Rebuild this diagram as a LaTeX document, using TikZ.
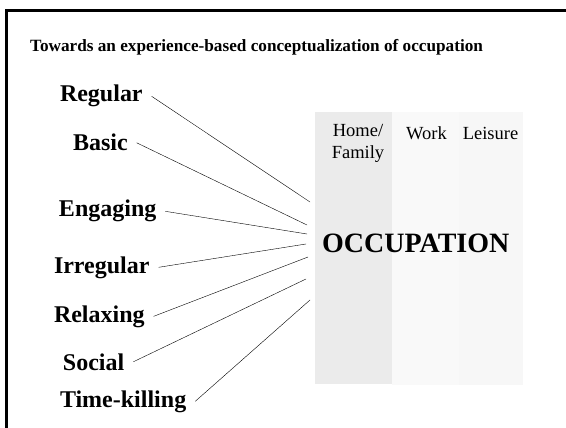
\documentclass[tikz,border=0pt]{standalone}
\usepackage{fontspec}
\setmainfont{Liberation Serif}
\definecolor{homegray}{HTML}{EBEBEB}
\definecolor{workgray}{HTML}{F9F9F9}
\definecolor{leisgray}{HTML}{F7F7F7}
\begin{document}
\begin{tikzpicture}[x=1pt, y=-1pt,
		lbl/.style={font=\fontsize{24}{28}\selectfont\bfseries, inner sep=0pt, outer xsep=9pt, anchor=base west},
		colhead/.style={font=\fontsize{18.5}{21}\selectfont, inner sep=0pt, align=center, anchor=base}]
		\useasboundingbox (0,0) rectangle (566,428);
		
		% frame, only top and left edges show
		\draw[line width=2.5pt] (6.5,428) -- (6.5,10.5) -- (566,10.5);
		
		\node[anchor=base west, inner sep=0pt, font=\fontsize{17.2}{20}\selectfont\bfseries] (title) at (30,51.5) {Towards an experience-based conceptualization of occupation};
		
		% the three columns
		\fill[homegray] (315,112) rectangle (392,384);
		\fill[workgray] (392,112) rectangle (459,385);
		\fill[leisgray] (459,112) rectangle (523,385);
		
		\node[colhead] (home) at (358,158) {Home/\\Family};
		\node[colhead] (work) at (426.5,140) {Work};
		\node[colhead] (leis) at (490.5,140) {Leisure};
		
		\node[anchor=base west, inner sep=0pt, font=\fontsize{28}{32}\selectfont\bfseries] (occ) at (322,252) {OCCUPATION};
		
		% qualities on the left
		\node[lbl] (reg) at (51,102) {Regular};
		\node[lbl] (bas) at (64,151) {Basic};
		\node[lbl] (eng) at (50,217) {Engaging};
		\node[lbl] (irr) at (45,273) {Irregular};
		\node[lbl] (rel) at (45,322) {Relaxing};
		\node[lbl] (soc) at (54,370) {Social};
		\node[lbl] (tim) at (51,407) {Time-killing};
		
		\coordinate (c1) at (310,202);
		\coordinate (c2) at (307,225);
		\coordinate (c3) at (307,234);
		\coordinate (c4) at (306,244);
		\coordinate (c5) at (308,257);
		\coordinate (c6) at (306,279);
		\coordinate (c7) at (310,300);
		
		\draw (reg.east) -- (c1);
		\draw (bas.east) -- (c2);
		\draw (eng.east) -- (c3);
		\draw (irr.east) -- (c4);
		\draw (rel.east) -- (c5);
		\draw (soc.east) -- (c6);
		\draw (tim.east) -- (c7);
	\end{tikzpicture}
\end{document}
